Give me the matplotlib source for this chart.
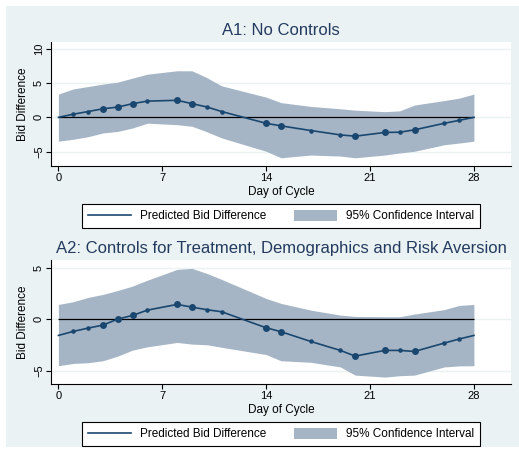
import matplotlib
matplotlib.use("Agg")
import matplotlib.pyplot as plt
from matplotlib.lines import Line2D
from matplotlib.patches import Patch, Rectangle

plt.rcParams['font.family'] = ['Liberation Sans', 'DejaVu Sans']

# days with an estimate (0 and 28 are the cycle ends, no marker there)
days = [0, 1, 2, 3, 4, 5, 6, 8, 9, 10, 11, 14, 15, 17, 19, 20, 22, 23, 24, 26, 27, 28]
big_days = [3, 4, 5, 8, 9, 14, 15, 20, 22, 24]
small_days = [1, 2, 6, 10, 11, 17, 19, 23, 26, 27]

# A1: no controls
a1_pred = [0, 0.46, 0.85, 1.25, 1.5, 2.0, 2.37, 2.49, 2.0, 1.52, 0.85,
           -0.87, -1.24, -1.92, -2.56, -2.75, -2.2, -2.17, -1.82, -0.87, -0.44, 0]
a1_hi = [3.4, 4.15, 4.5, 4.85, 5.15, 5.73, 6.3, 6.8, 6.8, 5.8, 4.6,
         2.95, 2.15, 1.6, 1.25, 1.05, 0.83, 0.95, 1.8, 2.45, 2.8, 3.4]
a1_lo = [-3.48, -3.2, -2.82, -2.28, -2.05, -1.55, -0.85, -1.07, -1.3, -2.1, -3.0,
         -4.95, -5.9, -5.5, -5.65, -5.9, -5.5, -5.2, -4.95, -4.0, -3.75, -3.48]

# A2: with controls
a2_pred = [-1.55, -1.16, -0.84, -0.55, 0.03, 0.39, 0.9, 1.45, 1.19, 0.94, 0.74,
           -0.81, -1.19, -2.13, -3.0, -3.55, -3.0, -3.0, -3.1, -2.29, -1.9, -1.55]
a2_hi = [1.45, 1.71, 2.13, 2.42, 2.8, 3.23, 3.8, 4.84, 4.94, 4.45, 3.87,
         2.03, 1.55, 0.9, 0.42, 0.29, 0.26, 0.26, 0.52, 0.95, 1.35, 1.45]
a2_lo = [-4.48, -4.26, -4.19, -4.0, -3.55, -2.97, -2.65, -2.23, -2.39, -2.45, -2.7,
         -3.4, -4.0, -4.15, -4.6, -5.39, -5.58, -5.45, -5.39, -4.6, -4.5, -4.48]

xticks = [0, 7, 14, 21, 28]
titles = ["A1: No Controls",
          "A2: Controls for Treatment, Demographics and Risk Aversion"]
leg_labels = ["Predicted Bid Difference", "95% Confidence Interval"]

NAVY = '#1a476f'
BAND = '#a5b5c6'
BG = '#eaf2f3'
TITLE_C = '#243a5e'

W, H = 519, 451
fig = plt.figure(figsize=(W / 100, H / 100), dpi=100, facecolor='white')
fig.patches.append(Rectangle((6 / W, 1 - 447 / H), (W - 6) / W, 441 / H,
                             transform=fig.transFigure, facecolor=BG,
                             edgecolor='none', zorder=-10))


def px_axes(l, t, r, b):
    return fig.add_axes([l / W, 1 - b / H, (r - l) / W, (b - t) / H])


def panel(top, pred, lo, hi, ylim, yticks, title):
    # top = pixel row of the plot region top
    bot = top + 124
    ax = px_axes(51, top, 511, bot)
    ax.set_facecolor('white')
    ax.fill_between(days, lo, hi, color=BAND, linewidth=0, zorder=1)
    ax.hlines(0, days[0], days[-1], color='black', lw=0.9, zorder=2)
    ax.plot(days, pred, color=NAVY, lw=1.2, zorder=3)
    yb = [pred[days.index(d)] for d in big_days]
    ys = [pred[days.index(d)] for d in small_days]
    ax.plot(big_days, yb, 'o', color=NAVY, ms=5.0, mew=0, zorder=4)
    ax.plot(small_days, ys, 'o', color=NAVY, ms=3.3, mew=0, zorder=4)

    ax.set_xlim(-0.5, 30.5)
    ax.set_ylim(ylim)
    ax.set_xticks(xticks)
    ax.set_yticks(yticks)
    ax.grid(axis='y', color=BG, lw=1.0)
    ax.set_axisbelow(True)
    for s in ['top', 'right']:
        ax.spines[s].set_visible(False)
    for s in ['left', 'bottom']:
        ax.spines[s].set_linewidth(0.8)
    ax.tick_params(axis='both', direction='out', length=3.5, width=0.8,
                   labelsize=8, pad=1.5)
    ax.tick_params(axis='y', labelrotation=90)
    for lbl in ax.get_yticklabels():
        lbl.set_va('center')

    fig.text(281 / W, 1 - (top - 7) / H, title, ha='center', va='baseline',
             fontsize=12, color=TITLE_C)
    fig.text(23 / W, 1 - (top + 62) / H, "Bid Difference", rotation=90,
             ha='center', va='center', fontsize=8.5)
    fig.text(281 / W, 1 - (bot + 29) / H, "Day of Cycle", ha='center',
             va='baseline', fontsize=8.5)

    handles = [Line2D([], [], color=NAVY, lw=1.2),
               Patch(facecolor=BAND, edgecolor='none')]
    leg = ax.legend(handles, leg_labels, loc='center',
                    bbox_to_anchor=(281 / W, 1 - (bot + 50) / H),
                    bbox_transform=fig.transFigure, ncol=2, frameon=True,
                    fancybox=False, edgecolor='black', framealpha=1,
                    fontsize=8.5, handlelength=3.7, handleheight=1.1,
                    handletextpad=0.75, columnspacing=2.3, borderpad=0.45)
    leg.get_frame().set_linewidth(0.8)
    return ax


panel(42, a1_pred, a1_lo, a1_hi, (-7.1, 11.0), [-5, 0, 5, 10], titles[0])
panel(260, a2_pred, a2_lo, a2_hi, (-6.25, 5.75), [-5, 0, 5], titles[1])

fig.savefig("out.png", dpi=100, facecolor=fig.get_facecolor())
